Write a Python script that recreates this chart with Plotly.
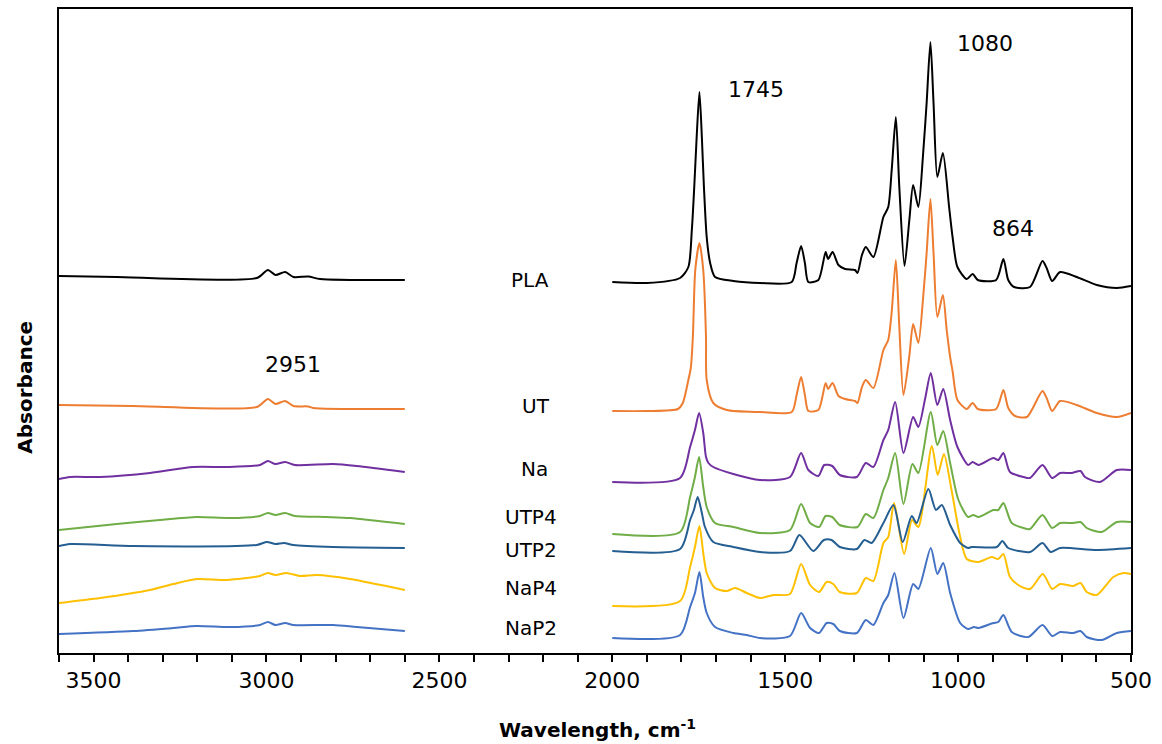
import plotly.graph_objects as go

# ---------------- data (wavenumber cm-1, absorbance a.u., offset-stacked) ----------------
SERIES = ["PLA", "UT", "Na", "UTP4", "UTP2", "NaP4", "NaP2"]
COLORS = ["#000000", "#ED7D31", "#7030A0", "#70AD47", "#255E91", "#FFC000", "#4472C4"]

# high-wavenumber window (3600-2600)
pla_wn_hi = [3600, 3433, 3028, 2996, 2974, 2946, 2922, 2879, 2845, 2600]
pla_ab_hi = [3.77, 3.76, 3.75, 3.83, 3.78, 3.81, 3.76, 3.765, 3.74, 3.73]
ut_wn_hi = [3600, 3386, 3028, 2996, 2974, 2946, 2922, 2879, 2865, 2600]
ut_ab_hi = [2.48, 2.47, 2.46, 2.54, 2.49, 2.52, 2.47, 2.465, 2.45, 2.44]
na_wn_hi = [3600, 3568, 3481, 3337, 3212, 3115, 3019, 2996, 2974, 2946, 2918, 2807, 2739, 2600]
na_ab_hi = [1.74, 1.76, 1.76, 1.80, 1.86, 1.86, 1.88, 1.92, 1.89, 1.91, 1.88, 1.89, 1.87, 1.81]
utp4_wn_hi = [3600, 3433, 3308, 3202, 3105, 3019, 2996, 2974, 2946, 2918, 2826, 2758, 2600]
utp4_ab_hi = [1.23, 1.29, 1.33, 1.36, 1.35, 1.37, 1.40, 1.38, 1.40, 1.37, 1.36, 1.35, 1.29]
utp2_wn_hi = [3600, 3568, 3385, 3028, 2999, 2974, 2949, 2922, 2807, 2600]
utp2_ab_hi = [1.07, 1.09, 1.07, 1.08, 1.11, 1.09, 1.10, 1.08, 1.06, 1.05]
nap4_wn_hi = [3600, 3481, 3337, 3269, 3202, 3115, 3019, 2996, 2974, 2942, 2903, 2855, 2758, 2600]
nap4_ab_hi = [0.50, 0.55, 0.63, 0.69, 0.74, 0.73, 0.77, 0.80, 0.78, 0.80, 0.77, 0.78, 0.74, 0.63]
nap2_wn_hi = [3600, 3385, 3269, 3202, 3105, 3019, 2996, 2974, 2946, 2922, 2807, 2739, 2600]
nap2_ab_hi = [0.19, 0.22, 0.25, 0.27, 0.26, 0.28, 0.31, 0.28, 0.30, 0.28, 0.28, 0.26, 0.22]

# fingerprint window (2000-500)
pla_wn_lo = [2000, 1900, 1804, 1780, 1770, 1763, 1756, 1748, 1741, 1735, 1727, 1717, 1703, 1650,
             1573, 1481, 1467, 1454, 1443, 1433, 1404, 1383, 1376, 1363, 1346, 1327, 1298, 1291,
             1278, 1267, 1245, 1216, 1202, 1192, 1180, 1170, 1155, 1141, 1130, 1115, 1101, 1091,
             1080, 1071, 1060, 1044, 1026, 1016, 1002, 975, 958, 943, 890, 869, 855, 838, 792,
             756, 744, 728, 705, 657, 599, 541, 500]
pla_ab_lo = [3.71, 3.70, 3.75, 3.86, 4.23, 4.66, 5.16, 5.61, 5.16, 4.66, 4.16, 3.90, 3.76, 3.72,
             3.70, 3.71, 3.90, 4.07, 3.90, 3.71, 3.73, 4.01, 3.94, 4.01, 3.88, 3.84, 3.83, 3.80,
             3.98, 4.06, 3.96, 4.36, 4.46, 4.83, 5.36, 4.66, 3.87, 4.33, 4.68, 4.46, 5.00, 5.50,
             6.11, 5.50, 4.76, 5.00, 4.46, 4.16, 3.86, 3.74, 3.79, 3.73, 3.73, 3.94, 3.73, 3.66, 3.66,
             3.92, 3.85, 3.72, 3.81, 3.76, 3.68, 3.65, 3.67]
ut_wn_lo = [2000, 1900, 1810, 1796, 1780, 1773, 1767, 1760, 1748, 1737, 1729, 1727, 1708, 1669,
            1573, 1481, 1467, 1454, 1443, 1433, 1404, 1383, 1376, 1363, 1346, 1327, 1298, 1291,
            1278, 1267, 1245, 1216, 1202, 1192, 1180, 1170, 1158, 1141, 1130, 1115, 1101, 1091,
            1080, 1071, 1060, 1044, 1033, 1023, 1016, 1002, 975, 958, 943, 890, 869, 855, 835, 801,
            756, 744, 728, 705, 657, 599, 541, 500]
ut_ab_lo = [2.42, 2.42, 2.44, 2.50, 2.73, 2.85, 3.16, 3.83, 4.10, 3.83, 3.16, 2.73, 2.50, 2.43,
            2.41, 2.41, 2.58, 2.76, 2.58, 2.42, 2.43, 2.70, 2.64, 2.70, 2.57, 2.54, 2.52, 2.50,
            2.66, 2.73, 2.65, 3.03, 3.13, 3.41, 3.93, 3.26, 2.58, 2.97, 3.29, 3.10, 3.56, 4.00,
            4.54, 4.00, 3.36, 3.58, 3.23, 2.96, 2.82, 2.53, 2.44, 2.50, 2.44, 2.44, 2.63, 2.45, 2.37,
            2.36, 2.62, 2.55, 2.42, 2.52, 2.48, 2.40, 2.36, 2.40]
na_wn_lo = [2000, 1804, 1775, 1761, 1749, 1737, 1729, 1722, 1708, 1650, 1573, 1486, 1454, 1433,
            1404, 1387, 1364, 1342, 1293, 1267, 1245, 1216, 1202, 1182, 1158, 1130, 1115, 1095,
            1079, 1060, 1043, 1023, 1002, 971, 958, 941, 898, 884, 869, 850, 811, 792, 756, 728,
            705, 672, 646, 633, 590, 541, 500]
na_ab_lo = [1.71, 1.75, 2.06, 2.23, 2.40, 2.20, 1.96, 1.90, 1.86, 1.79, 1.73, 1.76, 2.00, 1.83,
            1.77, 1.88, 1.87, 1.78, 1.76, 1.90, 1.86, 2.13, 2.23, 2.51, 2.00, 2.36, 2.26, 2.55,
            2.80, 2.48, 2.64, 2.33, 2.06, 1.88, 1.91, 1.88, 1.95, 1.93, 2.00, 1.81, 1.76, 1.75, 1.88,
            1.75, 1.80, 1.80, 1.82, 1.76, 1.71, 1.83, 1.83]
utp4_wn_lo = [2000, 1804, 1775, 1761, 1749, 1737, 1727, 1703, 1650, 1573, 1486, 1454, 1428, 1402,
              1383, 1364, 1342, 1291, 1267, 1245, 1216, 1202, 1182, 1158, 1132, 1115, 1079, 1060,
              1043, 1023, 999, 971, 956, 941, 898, 884, 869, 845, 811, 792, 756, 728, 705, 667,
              646, 628, 585, 541, 500]
utp4_ab_lo = [1.19, 1.21, 1.56, 1.76, 1.96, 1.66, 1.46, 1.30, 1.26, 1.20, 1.23, 1.49, 1.30, 1.26,
              1.37, 1.36, 1.28, 1.26, 1.39, 1.35, 1.63, 1.75, 2.00, 1.49, 1.89, 1.80, 2.41, 2.08,
              2.22, 1.90, 1.53, 1.36, 1.38, 1.36, 1.43, 1.43, 1.50, 1.30, 1.25, 1.24, 1.38, 1.25,
              1.30, 1.30, 1.31, 1.25, 1.21, 1.31, 1.31]
utp2_wn_lo = [2000, 1804, 1775, 1764, 1753, 1741, 1732, 1708, 1650, 1573, 1486, 1459, 1419, 1388,
              1366, 1342, 1293, 1271, 1250, 1216, 1187, 1160, 1134, 1120, 1086, 1064, 1047, 1023,
              994, 971, 961, 888, 872, 855, 792, 756, 732, 705, 599, 500]
utp2_ab_lo = [1.02, 1.04, 1.33, 1.43, 1.56, 1.40, 1.26, 1.11, 1.06, 1.01, 1.02, 1.18, 1.02, 1.13,
              1.13, 1.06, 1.04, 1.13, 1.10, 1.30, 1.48, 1.11, 1.37, 1.30, 1.64, 1.43, 1.48, 1.28,
              1.10, 1.05, 1.06, 1.06, 1.12, 1.05, 1.01, 1.10, 1.01, 1.05, 1.03, 1.05]
nap4_wn_lo = [2000, 1804, 1775, 1761, 1748, 1737, 1727, 1703, 1669, 1645, 1611, 1573, 1534, 1486,
              1454, 1428, 1402, 1380, 1361, 1342, 1293, 1267, 1245, 1216, 1202, 1185, 1156, 1133,
              1115, 1076, 1059, 1041, 1019, 994, 975, 941, 903, 884, 869, 850, 826, 792, 755, 728,
              705, 667, 646, 628, 599, 551, 522, 500]
nap4_ab_lo = [0.47, 0.52, 0.86, 1.06, 1.27, 1.00, 0.80, 0.65, 0.62, 0.65, 0.60, 0.55, 0.58, 0.59,
              0.89, 0.68, 0.61, 0.71, 0.69, 0.61, 0.60, 0.75, 0.72, 1.10, 1.16, 1.50, 0.99, 1.33,
              1.26, 2.07, 1.78, 1.99, 1.63, 1.16, 0.94, 0.91, 0.96, 0.94, 0.99, 0.76, 0.68, 0.64,
              0.79, 0.64, 0.69, 0.67, 0.70, 0.61, 0.58, 0.76, 0.80, 0.79]
nap2_wn_lo = [2000, 1804, 1775, 1761, 1748, 1737, 1727, 1703, 1650, 1611, 1573, 1486, 1454, 1428,
              1402, 1380, 1361, 1342, 1293, 1267, 1245, 1216, 1202, 1184, 1158, 1130, 1115, 1079,
              1060, 1043, 1023, 994, 971, 954, 941, 898, 884, 869, 845, 797, 756, 728, 705, 667,
              646, 628, 585, 541, 500]
nap2_ab_lo = [0.15, 0.18, 0.46, 0.60, 0.81, 0.56, 0.40, 0.26, 0.20, 0.18, 0.15, 0.17, 0.40, 0.25,
              0.20, 0.30, 0.29, 0.22, 0.20, 0.33, 0.28, 0.50, 0.58, 0.80, 0.35, 0.69, 0.64, 1.05,
              0.79, 0.90, 0.60, 0.30, 0.24, 0.26, 0.25, 0.30, 0.31, 0.38, 0.21, 0.16, 0.28, 0.17,
              0.21, 0.20, 0.22, 0.16, 0.13, 0.20, 0.22]

# series-name label positions (in the gap between the two windows)
LABEL_WN = [2238, 2222, 2225, 2235, 2235, 2235, 2235]
LABEL_AB = [3.73, 2.47, 1.84, 1.36, 1.03, 0.65, 0.25]

# band annotations
BAND_TEXT = ["1745", "1080", "864", "2951"]
BAND_WN = [1584, 922, 841, 2923]
BAND_AB = [5.64, 6.10, 4.25, 2.89]

TICK_VALS = [3500, 3000, 2500, 2000, 1500, 1000, 500]
TICK_TEXT = ["3500", "3000", "2500", "2000", "1500", "1000", "500"]

X_TITLE = "<b>Wavelength, cm<sup>-1</sup></b>"
Y_TITLE = "<b>Absorbance</b>"

HI = {"PLA": (pla_wn_hi, pla_ab_hi), "UT": (ut_wn_hi, ut_ab_hi), "Na": (na_wn_hi, na_ab_hi),
      "UTP4": (utp4_wn_hi, utp4_ab_hi), "UTP2": (utp2_wn_hi, utp2_ab_hi),
      "NaP4": (nap4_wn_hi, nap4_ab_hi), "NaP2": (nap2_wn_hi, nap2_ab_hi)}
LO = {"PLA": (pla_wn_lo, pla_ab_lo), "UT": (ut_wn_lo, ut_ab_lo), "Na": (na_wn_lo, na_ab_lo),
      "UTP4": (utp4_wn_lo, utp4_ab_lo), "UTP2": (utp2_wn_lo, utp2_ab_lo),
      "NaP4": (nap4_wn_lo, nap4_ab_lo), "NaP2": (nap2_wn_lo, nap2_ab_lo)}

FONT = "DejaVu Sans, Verdana, sans-serif"

fig = go.Figure()
for name, color in reversed(list(zip(SERIES, COLORS))):
    xh, yh = HI[name]
    xl, yl = LO[name]
    fig.add_trace(go.Scatter(
        x=list(xh) + [None] + list(xl),
        y=list(yh) + [None] + list(yl),
        mode="lines", name=name, connectgaps=False,
        line=dict(color=color, width=2, shape="spline", smoothing=0.7),
        showlegend=False, hoverinfo="skip"))

for name, xw, ya in zip(SERIES, LABEL_WN, LABEL_AB):
    fig.add_annotation(x=xw, y=ya, text=name, showarrow=False,
                       font=dict(family=FONT, size=20, color="black"),
                       xanchor="center", yanchor="middle")
for t, xw, ya in zip(BAND_TEXT, BAND_WN, BAND_AB):
    fig.add_annotation(x=xw, y=ya, text=t, showarrow=False,
                       font=dict(family=FONT, size=22, color="black"),
                       xanchor="center", yanchor="middle")

# axis titles placed as paper-referenced annotations
fig.add_annotation(xref="paper", yref="paper", x=0.502, y=-0.118, text=X_TITLE, showarrow=False,
                   font=dict(family=FONT, size=20, color="black"),
                   xanchor="center", yanchor="middle")
fig.add_annotation(xref="paper", yref="paper", x=-0.032, y=0.413, text=Y_TITLE, showarrow=False,
                   textangle=-90, font=dict(family=FONT, size=20, color="black"),
                   xanchor="center", yanchor="middle")

fig.update_layout(
    width=1162, height=744,
    margin=dict(l=59, r=31, t=9, b=91),
    paper_bgcolor="white", plot_bgcolor="white",
    font=dict(family=FONT, color="black"),
    hovermode=False,
    xaxis=dict(
        range=[3600, 500], tickvals=TICK_VALS, ticktext=TICK_TEXT, automargin=False,
        ticks="outside", ticklen=7, tickwidth=2, tickcolor="black",
        minor=dict(dtick=100, tick0=500, ticks="outside", ticklen=7, tickwidth=1.5, tickcolor="black"),
        showgrid=False, zeroline=False,
        showline=True, linecolor="black", linewidth=2, mirror=True,
        tickfont=dict(family=FONT, size=22, color="black"),
    ),
    yaxis=dict(
        range=[0, 6.44], showticklabels=False, ticks="", automargin=False,
        showgrid=False, zeroline=False,
        showline=True, linecolor="black", linewidth=2, mirror=True,
    ),
)

fig.write_html("out.html", config={"displayModeBar": False},
               post_script="document.body.style.margin='0';document.body.style.padding='0';")
